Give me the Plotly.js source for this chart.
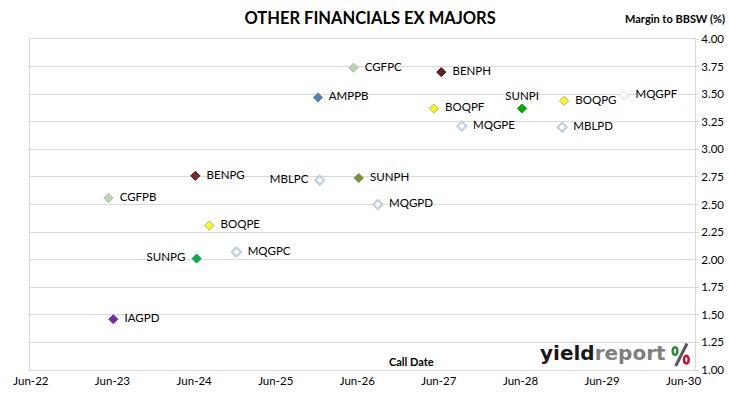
<!DOCTYPE html>
<html>
<head>
<meta charset="utf-8">
<script src="https://cdn.plot.ly/plotly-3.0.1.min.js"></script>
<style>html,body{margin:0;padding:0;background:#fff;}#chart{width:730px;height:399px;}</style>
</head>
<body>
<div id="chart"></div>
<script>
// ---- data ----
var codes = ["CGFPC","BENPH","AMPPB","BOQPF","MQGPE","SUNPI","BOQPG","MQGPF","MBLPD",
             "BENPG","CGFPB","BOQPE","MQGPC","SUNPG","MBLPC","SUNPH","MQGPD","IAGPD"];
var callDates = ["2026-05-15","2027-06-12","2025-12-07","2027-05-10","2027-09-12","2028-06-08","2028-12-13","2029-09-08","2028-12-04",
                 "2024-06-06","2023-05-14","2024-08-08","2024-12-07","2024-06-12","2025-12-15","2026-06-08","2026-09-01","2023-06-05"];
var margins = [3.74,3.70,3.47,3.37,3.21,3.37,3.44,3.49,3.20,
               2.76,2.56,2.31,2.07,2.01,2.72,2.74,2.50,1.46];
var xTickVals = ["2022-06-01","2023-06-01","2024-06-01","2025-06-01","2026-06-01","2027-06-01","2028-06-01","2029-06-01","2030-06-01"];
var xTickText = ["Jun-22","Jun-23","Jun-24","Jun-25","Jun-26","Jun-27","Jun-28","Jun-29","Jun-30"];

// ---- styles ----
var fillColors = ["#c4d79b","#632523","#4f81bd","#ffff00","#ffffff","#00b000","#ffff00","#ffffff","#ffffff",
                  "#7b2c2c","#c4d79b","#ffff00","#ffffff","#00b050","#ffffff","#77933c","#ffffff","#7030a0"];
var lineColors = ["#95b3d7","#3b1010","#4f81bd","#a6a6a6","#b9cde5","#00a000","#a6a6a6","#c5d5ea","#b9cde5",
                  "#3b1010","#95b3d7","#a6a6a6","#b9cde5","#00a040","#b9cde5","#77933c","#b9cde5","#7030a0"];
var lineWidths = [1,1,1,1,2,1,1,1,2, 1,1,1,2,1,2,1,2,1];
var textPos = ["middle right","middle right","middle right","middle right","middle right","top center","middle right","middle right","middle right",
               "middle right","middle right","middle right","middle right","middle left","middle left","middle right","middle right","middle right"];

var font = "Lato, 'Open Sans', sans-serif";

var trace = {
  type: "scatter", mode: "markers+text",
  x: callDates, y: margins,
  text: codes.map(function(c, i){return textPos[i] === "top center" ? c : "  " + c + "  ";}),
  textposition: textPos,
  textfont: {family: font, size: 11.5, color: "#000"},
  marker: {symbol: "diamond", size: 7, color: fillColors, line: {color: lineColors, width: lineWidths}},
  cliponaxis: false, hoverinfo: "skip", showlegend: false
};

var layout = {
  width: 730, height: 399,
  margin: {l: 30, r: 35, t: 39, b: 29},
  paper_bgcolor: "#fff", plot_bgcolor: "#fff",
  font: {family: font, size: 11.5, color: "#000"},
  title: {text: "<b>OTHER FINANCIALS EX MAJORS</b>", x: 0.507, xanchor: "center", y: 0.955, yanchor: "middle",
          font: {family: font, size: 16.5, color: "#000"}},
  xaxis: {type: "date", range: ["2022-05-28","2030-07-22"], tickmode: "array", tickvals: xTickVals, ticktext: xTickText,
          showgrid: false, zeroline: false, showline: true, linecolor: "#d9d9d9", linewidth: 1, mirror: true,
          ticks: "", ticklen: 0, tickfont: {family: font, size: 11.5, color: "#000"}},
  yaxis: {range: [1, 4], dtick: 0.25, tick0: 1, tickformat: ".2f", side: "right",
          showgrid: true, gridcolor: "#d9d9d9", gridwidth: 1, zeroline: false,
          showline: true, linecolor: "#d9d9d9", linewidth: 1, mirror: true,
          ticks: "outside", ticklen: 3, tickcolor: "#d9d9d9",
          tickfont: {family: font, size: 11.5, color: "#000"}},
  annotations: [
    {xref: "paper", yref: "paper", x: 1.048, y: 1.063, xanchor: "right", yanchor: "middle", showarrow: false,
     text: "<b>Margin to BBSW (%)</b>", font: {family: font, size: 11, color: "#000"}},
    {xref: "paper", yref: "paper", x: 0.574, y: 0.025, xanchor: "center", yanchor: "middle", showarrow: false,
     text: "<b>Call Date</b>", font: {family: font, size: 11, color: "#000"}},
    {xref: "paper", yref: "paper", x: 0.959, y: 0.052, xanchor: "right", yanchor: "middle", showarrow: false,
     text: "<b><span style='color:#1a1a1a'>yield</span><span style='color:#7f7f7f'>report</span></b>",
     font: {family: "'DejaVu Sans', sans-serif", size: 20}}
  ],
  shapes: [
    {type: "line", xref: "paper", yref: "paper", x0: 0.971, y0: 0.012, x1: 0.988, y1: 0.080, line: {color: "#595959", width: 3}},
    {type: "circle", xref: "paper", yref: "paper", x0: 0.9665, x1: 0.9735, y0: 0.046, y1: 0.069, fillcolor: "#ffffff", line: {color: "#2e8b3a", width: 2.5}},
    {type: "circle", xref: "paper", yref: "paper", x0: 0.9835, x1: 0.9905, y0: 0.020, y1: 0.043, fillcolor: "#ffffff", line: {color: "#c8102e", width: 2.5}}
  ]
};

Plotly.newPlot("chart", [trace], layout, {staticPlot: true, displayModeBar: false});
</script>
</body>
</html>
